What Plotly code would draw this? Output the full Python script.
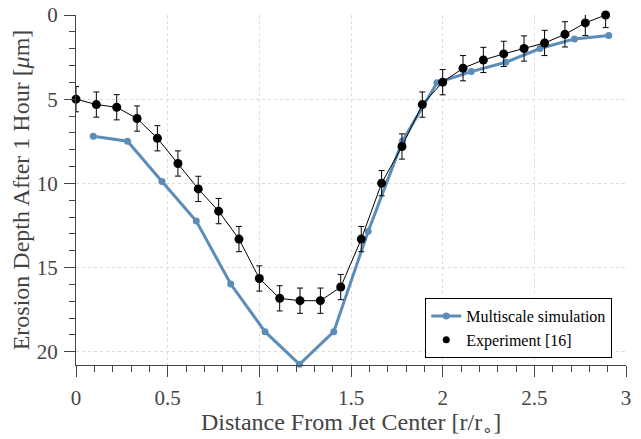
import plotly.graph_objects as go

# Experiment data (r/r0, erosion depth in micrometres)
exp_x = [0.0, 0.111, 0.222, 0.333, 0.444, 0.556, 0.667, 0.778, 0.889, 1.0,
         1.111, 1.222, 1.333, 1.444, 1.556, 1.667, 1.778, 1.889, 2.0, 2.111,
         2.222, 2.333, 2.444, 2.556, 2.667, 2.778, 2.889]
exp_y = [5.0, 5.32, 5.48, 6.15, 7.32, 8.82, 10.33, 11.65, 13.31, 15.65,
         16.83, 16.97, 16.97, 16.16, 13.31, 9.99, 7.81, 5.32, 3.99, 3.16,
         2.67, 2.31, 1.99, 1.66, 1.15, 0.47, 0.0]
exp_err = [0.75] * len(exp_x)

# Multiscale simulation
sim_x = [0.094, 0.281, 0.469, 0.656, 0.844, 1.031, 1.219, 1.406, 1.594, 1.781,
         1.969, 2.156, 2.344, 2.531, 2.719, 2.906]
sim_y = [7.2, 7.5, 9.89, 12.24, 15.98, 18.81, 20.75, 18.81, 12.84, 7.48,
         4.03, 3.36, 2.81, 1.99, 1.42, 1.22]

x_ticks = [0, 0.5, 1, 1.5, 2, 2.5, 3]
x_ticklabels = ["0", "0.5", "1", "1.5", "2", "2.5", "3"]
y_ticks = [0, 5, 10, 15, 20]
y_ticklabels = ["0", "5", "10", "15", "20"]

FONT = "Liberation Serif, Times New Roman, serif"
TXT = "#444444"
BLUE = "#5B8DB8"

fig = go.Figure()
fig.add_trace(go.Scatter(
    x=sim_x, y=sim_y, mode="lines+markers", name="Multiscale simulation",
    line=dict(color=BLUE, width=3), marker=dict(color=BLUE, size=7),
    cliponaxis=False,
))
fig.add_trace(go.Scatter(
    x=exp_x, y=exp_y, mode="lines+markers", name="Experiment [16]",
    line=dict(color="black", width=1), marker=dict(color="black", size=9),
    error_y=dict(type="data", array=exp_err, color="black", thickness=1, width=3),
    showlegend=False, cliponaxis=False,
))
# legend-only entry (marker only)
fig.add_trace(go.Scatter(
    x=[None], y=[None], mode="markers", name="Experiment [16]",
    marker=dict(color="black", size=7),
))

axis_common = dict(
    showline=True, linecolor=TXT, linewidth=1,
    ticks="outside", tickcolor=TXT, ticklen=11, tickwidth=1,
    showgrid=True, gridcolor="#dcdcdc", griddash="dot", gridwidth=1,
    zeroline=False, mirror=False, automargin=False,
    ticklabeloverflow="allow",
    tickfont=dict(family=FONT, size=21, color=TXT),
)

# page body adds an 8px offset, so the figure is 8px smaller than the window
fig.update_layout(
    width=633, height=431,
    margin=dict(l=68, r=15, t=7, b=74),
    paper_bgcolor="white", plot_bgcolor="white",
    font=dict(family=FONT, color=TXT),
    xaxis=dict(
        range=[0, 3], tickvals=x_ticks, ticktext=x_ticklabels,
        minor=dict(dtick=0.1, ticks="outside", ticklen=6, tickcolor=TXT, showgrid=False),
        ticklabelstandoff=3,
        title=dict(text="Distance From Jet Center [r/r<sub>∘</sub>]",
                   font=dict(family=FONT, size=24, color=TXT), standoff=4),
        **axis_common,
    ),
    yaxis=dict(
        range=[20.79, 0], tickvals=y_ticks, ticktext=y_ticklabels,
        minor=dict(dtick=1, ticks="outside", ticklen=6, tickcolor=TXT, showgrid=False),
        ticklabelstandoff=2,
        title=dict(text="Erosion Depth After 1 Hour [<i>μ</i>m]",
                   font=dict(family=FONT, size=24, color=TXT), standoff=0),
        **axis_common,
    ),
    legend=dict(
        x=0.975, y=0.02, xanchor="right", yanchor="bottom",
        bgcolor="white", bordercolor="black", borderwidth=1,
        font=dict(family=FONT, size=16, color="black"),
        itemwidth=30, tracegroupgap=0,
    ),
)

fig.write_html("out.html")
